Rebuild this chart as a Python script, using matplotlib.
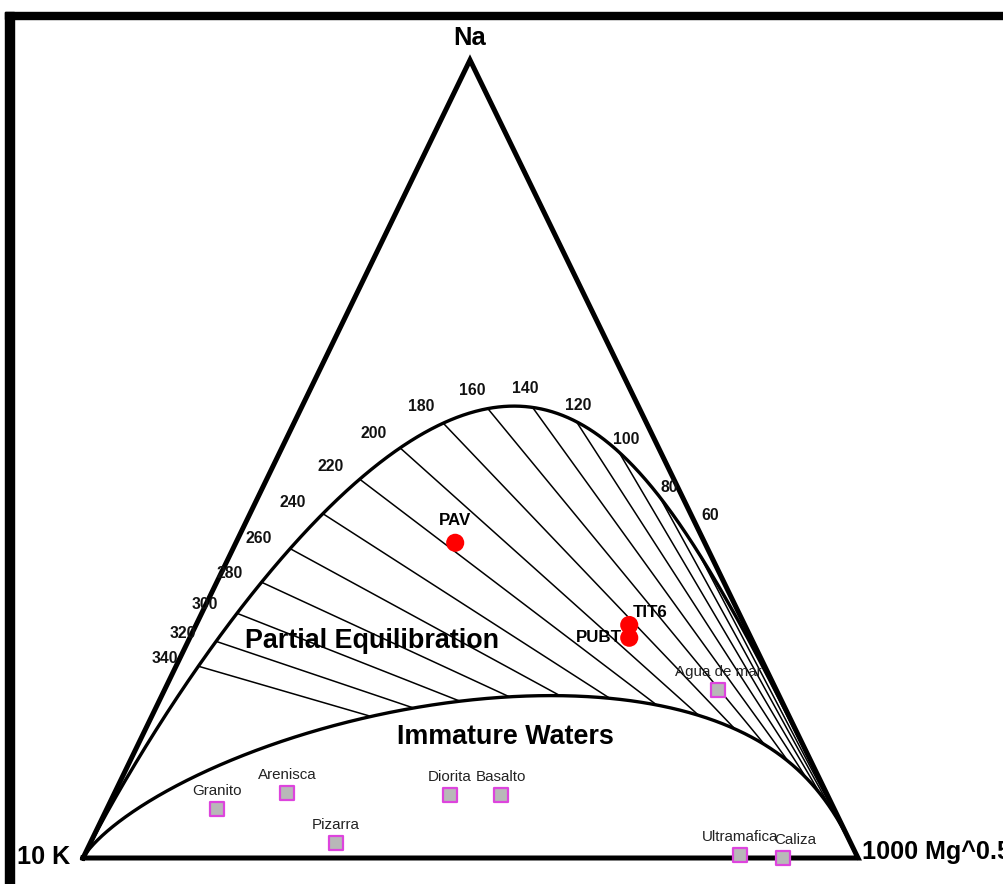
import numpy as np
import matplotlib
matplotlib.use('Agg')
import matplotlib.pyplot as plt
from matplotlib import font_manager
from matplotlib.patches import Rectangle

# isotherms (deg C) labelled on the full equilibrium line
iso_temps = [60, 80, 100, 120, 140, 160, 180, 200, 220, 240, 260, 280, 300, 320, 340]

# samples, relative % of Na/1000, K/100, Mg^0.5
sample_names = ['PAV', 'TIT6', 'PUBT']
sample_na = [39.5, 29.2, 27.6]
sample_k = [32.2, 14.9, 15.7]
sample_mg = [28.3, 55.9, 56.7]

# reference rocks / sea water
rock_names = ['Granito', 'Arenisca', 'Pizarra', 'Diorita', 'Basalto',
              'Ultramafica', 'Caliza', 'Agua de mar']
rock_na = [6.1, 8.2, 1.9, 7.9, 7.9, 0.4, 0.0, 21.1]
rock_k = [79.7, 69.6, 66.4, 48.7, 42.1, 15.0, 9.7, 7.5]
rock_mg = [14.2, 22.2, 31.7, 43.4, 50.0, 84.6, 90.3, 71.4]

# triangle corners in image pixels (K left, Mg right, Na top)
K_V = np.array([83.0, 858.0])
MG_V = np.array([858.0, 858.0])
NA_V = np.array([470.0, 60.0])
IMMATURE_FACTOR = 13.3

names = {f.name for f in font_manager.fontManager.ttflist}
if 'Liberation Sans Narrow' in names:
    FAM, SC = 'Liberation Sans Narrow', 1.0
else:
    FAM, SC = 'Liberation Sans', 0.84


def to_px(na, k, mg):
    na, k, mg = np.asarray(na, float), np.asarray(k, float), np.asarray(mg, float)
    s = na + k + mg
    na, k, mg = na / s, k / s, mg / s
    x = k * K_V[0] + mg * MG_V[0] + na * NA_V[0]
    y = k * K_V[1] + mg * MG_V[1] + na * NA_V[1]
    return x, y


def giggenbach(t_c, mg_factor=1.0):
    T = np.asarray(t_c, float) + 273.15
    k = np.ones_like(T)
    na = k * 10 ** (1390.0 / T - 1.75)
    mg = k ** 2 / 10 ** (14.0 - 4410.0 / T)
    return na / 1000.0, k / 100.0, mg_factor * np.sqrt(mg)


fig = plt.figure(figsize=(10.04, 8.84), dpi=100)
ax = fig.add_axes([0, 0, 1, 1])
ax.set_xlim(0, 1004)
ax.set_ylim(884, 0)
ax.axis('off')

# frame bits left from the original crop
ax.add_patch(Rectangle((5, 12), 999, 7, color='black', zorder=1))
ax.add_patch(Rectangle((5, 12), 9, 872, color='black', zorder=1))

# triangle
tri = np.array([K_V, MG_V, NA_V, K_V])
ax.plot(tri[:, 0], tri[:, 1], color='black', lw=3.6, solid_joinstyle='miter', zorder=3)

# full equilibrium and immature waters curves
t = np.linspace(-110, 1500, 4000)
ex, ey = to_px(*giggenbach(t))
ix, iy = to_px(*giggenbach(t, IMMATURE_FACTOR))
ax.plot(np.r_[MG_V[0], ex, K_V[0]], np.r_[MG_V[1], ey, K_V[1]], color='black', lw=2.4, zorder=2)
ax.plot(np.r_[MG_V[0], ix, K_V[0]], np.r_[MG_V[1], iy, K_V[1]], color='black', lw=2.4, zorder=2)

# isotherm lines in the partial equilibration field and their labels
for tc in iso_temps:
    x0, y0 = to_px(*giggenbach(tc))
    x1, y1 = to_px(*giggenbach(tc, IMMATURE_FACTOR))
    ax.plot([x0, x1], [y0, y1], color='black', lw=1.1, zorder=1.5)
    xa, ya = to_px(*giggenbach(tc - 1))
    xb, yb = to_px(*giggenbach(tc + 1))
    tx, ty = xb - xa, yb - ya
    nx, ny = ty, -tx
    if ny > 0:
        nx, ny = -nx, -ny
    nn = np.hypot(nx, ny)
    lx = x0 + 27 * nx / nn - 11
    ly = y0 + 27 * ny / nn + 8
    if tc == iso_temps[0]:
        ly -= 30
    ax.text(lx, ly, str(tc), family=FAM, fontsize=13.5 * SC,
            fontweight='bold', ha='center', va='center', color='#111111', zorder=5)

# samples
sx, sy = to_px(sample_na, sample_k, sample_mg)
ax.scatter(sx, sy, s=170, color='#ff0000', edgecolors='none', zorder=6)
for name, x, y in zip(sample_names, sx, sy):
    if name == 'PAV':
        ax.annotate(name, (x, y), xytext=(0, 22), textcoords='offset pixels', ha='center', va='center',
                    family=FAM, fontsize=14.5 * SC, fontweight='bold', zorder=7)
    elif name == 'TIT6':
        ax.annotate(name, (x, y), xytext=(4, 12), textcoords='offset pixels', ha='left', va='center',
                    family=FAM, fontsize=14.5 * SC, fontweight='bold', zorder=7)
    else:
        ax.annotate(name, (x, y), xytext=(-7, 0), textcoords='offset pixels', ha='right', va='center',
                    family=FAM, fontsize=14.5 * SC, fontweight='bold', zorder=7)

# reference rocks
rx, ry = to_px(rock_na, rock_k, rock_mg)
ax.scatter(rx, ry, s=110, marker='s', facecolor='#b8b8b8', edgecolors='#dd44dd', linewidths=1.6, zorder=6)
for name, x, y in zip(rock_names, rx, ry):
    dx = 12 if name == 'Caliza' else 0
    ax.annotate(name, (x, y), xytext=(dx, 18), textcoords='offset pixels', ha='center', va='center',
                family=FAM, fontsize=13 * SC, color='#222222', zorder=7)

# corner and field labels
ax.text(470, 38, 'Na', family=FAM, fontsize=22 * SC, fontweight='bold', ha='center', va='center')
ax.text(17, 857, '10 K', family=FAM, fontsize=21.5 * SC, fontweight='bold', ha='left', va='center')
ax.text(862, 852, '1000 Mg^0.5', family=FAM, fontsize=21.5 * SC, fontweight='bold', ha='left', va='center')
ax.text(372, 641, 'Partial Equilibration', family=FAM, fontsize=23 * SC, fontweight='bold',
        ha='center', va='center', zorder=5)
ax.text(505, 737, 'Immature Waters', family=FAM, fontsize=23 * SC, fontweight='bold',
        ha='center', va='center', zorder=5)

fig.savefig('out.png', dpi=100)
